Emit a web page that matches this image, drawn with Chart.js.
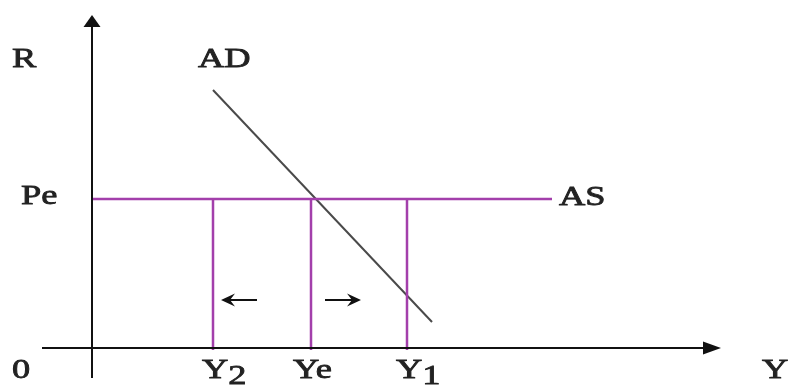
<!DOCTYPE html>
<html>
<head>
<meta charset="utf-8">
<script src="https://cdn.jsdelivr.net/npm/chart.js@4.4.1/dist/chart.umd.min.js"></script>
<style>
  html, body { margin: 0; padding: 0; background: #fff; }
  #wrap { width: 792px; height: 385px; position: relative; }
</style>
</head>
<body>
<div id="wrap"><canvas id="myChart"></canvas></div>
<script>
// output levels on the Y axis
const outputNames = ['Y2', 'Ye', 'Y1'];
const outputValues = [12.1, 21.9, 31.5];
// equilibrium price level and where the AS line stops
const pe = 14.9;
const asEndX = 46;
// AD curve (two end points)
const adX = [12.1, 34.0];
const adY = [25.8, 2.6];
// axis extents
const xAxisFrom = -5, xAxisTo = 62.9;
const yAxisFrom = -3, yAxisTo = 33.3;
// small adjustment arrows (start x, end x) at this height
const arrowY = 4.8;
const leftArrow = [16.5, 12.9];
const rightArrow = [23.3, 26.9];

const purple = '#a33fab';

function seg(x1, y1, x2, y2, color, width) {
    return {
        data: [{ x: x1, y: y1 }, { x: x2, y: y2 }],
        showLine: true,
        borderColor: color,
        backgroundColor: color,
        borderWidth: width,
        pointRadius: 0,
        fill: false
    };
}

const datasets = [];
// axes
datasets.push(seg(xAxisFrom, 0, xAxisTo - 1, 0, '#111', 2));
datasets.push(seg(0, yAxisFrom, 0, yAxisTo - 0.8, '#111', 2));
// AS
datasets.push(seg(0, pe, asEndX, pe, purple, 2.5));
// verticals from AS down to the axis
outputValues.forEach(v => datasets.push(seg(v, pe, v, -0.2, purple, 2.5)));
// AD
datasets.push(seg(adX[0], adY[0], adX[1], adY[1], '#4a4a4a', 2));
// adjustment arrows shafts
datasets.push(seg(leftArrow[0], arrowY, leftArrow[1] + 0.6, arrowY, '#111', 2));
datasets.push(seg(rightArrow[0], arrowY, rightArrow[1] - 0.6, arrowY, '#111', 2));

// arrowheads and text labels
const decor = {
    id: 'decor',
    afterDatasetsDraw(chart) {
        const ctx = chart.ctx;
        const xs = chart.scales.x, ys = chart.scales.y;
        const px = v => xs.getPixelForValue(v);
        const py = v => ys.getPixelForValue(v);

        ctx.save();
        ctx.fillStyle = '#111';
        // y axis head
        let tx = px(0), ty = py(yAxisTo);
        ctx.beginPath();
        ctx.moveTo(tx, ty);
        ctx.lineTo(tx - 8.5, ty + 12);
        ctx.lineTo(tx + 8.5, ty + 12);
        ctx.closePath();
        ctx.fill();
        // x axis head
        tx = px(xAxisTo); ty = py(0);
        ctx.beginPath();
        ctx.moveTo(tx, ty);
        ctx.lineTo(tx - 18, ty - 6.5);
        ctx.lineTo(tx - 18, ty + 6.5);
        ctx.closePath();
        ctx.fill();

        // small arrows
        function smallHead(x, y, dir) {
            ctx.beginPath();
            ctx.moveTo(x, y);
            ctx.lineTo(x - dir * 14, y - 6.5);
            ctx.lineTo(x - dir * 9, y);
            ctx.lineTo(x - dir * 14, y + 6.5);
            ctx.closePath();
            ctx.fill();
        }
        smallHead(px(leftArrow[1]), py(arrowY), -1);
        smallHead(px(rightArrow[1]), py(arrowY), 1);

        // labels, serif, medium weight and a little wide
        ctx.fillStyle = '#222';
        ctx.strokeStyle = '#222';
        ctx.lineWidth = 0.8;
        ctx.font = '28px "Liberation Serif", "DejaVu Serif", serif';
        ctx.textBaseline = 'alphabetic';
        function label(text, x, y, sub) {
            ctx.save();
            ctx.translate(x, y);
            ctx.scale(1.3, 1);
            ctx.textAlign = 'left';
            ctx.fillText(text, 0, 0);
            ctx.strokeText(text, 0, 0);
            if (sub) {
                const w = ctx.measureText(text).width;
                ctx.fillText(sub, w, 6);
                ctx.strokeText(sub, w, 6);
            }
            ctx.restore();
        }
        label('R', 12, 67);
        label('AD', 198, 67);
        label('Pe', 21, 204);
        label('AS', 559, 205);
        label('0', 12, 378);
        label('Y', 762, 378);
        outputValues.forEach((v, i) => {
            const name = outputNames[i];
            const x = px(v);
            if (name[1] === 'e') {
                label(name, x - 18, 378);
            } else {
                label(name[0], x - 11, 378, name.slice(1));
            }
        });
        ctx.restore();
    }
};

new Chart(document.getElementById('myChart'), {
    type: 'scatter',
    data: { datasets: datasets },
    options: {
        responsive: true,
        maintainAspectRatio: false,
        animation: false,
        layout: { padding: 0 },
        plugins: { legend: { display: false }, tooltip: { enabled: false } },
        scales: {
            x: { type: 'linear', min: -9.2, max: 70.0, display: false },
            y: { type: 'linear', min: -3.7, max: 34.8, display: false }
        }
    },
    plugins: [decor]
});
</script>
</body>
</html>
